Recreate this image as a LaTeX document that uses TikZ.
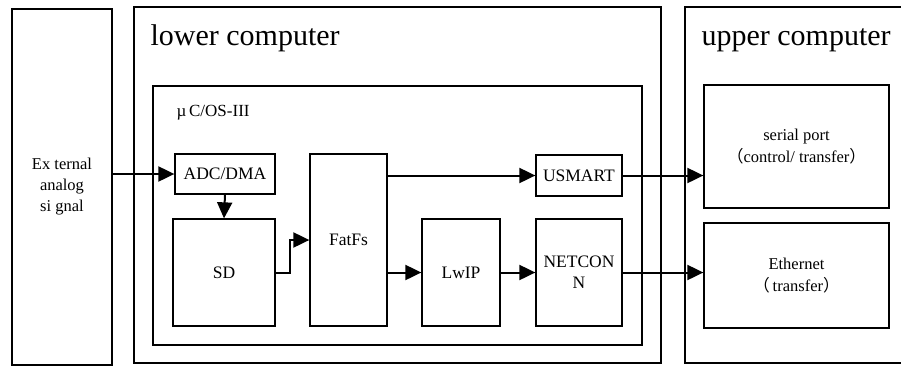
\documentclass[tikz,border=0pt]{standalone}
\usepackage{fontspec}
\setmainfont{Liberation Serif}
\newfontfamily\cjk{Noto Sans CJK SC}
\usetikzlibrary{arrows.meta}
\newcommand{\fs}[2]{\fontsize{#1}{#2}\selectfont}
\begin{document}
\begin{tikzpicture}[x=1pt,y=-1pt,
  frame/.style={draw,line width=2.2pt,inner sep=0pt},
  block/.style={draw,line width=1.3pt,inner sep=0pt,align=center,font=\fs{17.5}{21}},
  port/.style={block,font=\fs{16.5}{22}},
  link/.style={line width=2pt,-{Triangle[length=16pt,width=15pt]}}]
  \clip (0,0) rectangle (901,367);
  \useasboundingbox (0,0) rectangle (901,367);
  % Signal source
  \node[frame,minimum width=100pt,minimum height=356pt,align=center,font=\fs{16.5}{21}]
    (ext) at (62,187) {Ex ternal\\analog\\si gnal};
  % Lower computer and RTOS frame
  \node[frame,minimum width=527pt,minimum height=356pt] (lower) at (397.5,185) {};
  \node[anchor=base west,font=\fs{30}{32}] (lowtitle) at (147,45) {lower computer};
  \node[frame,minimum width=489pt,minimum height=259pt] (os) at (397.5,215.5) {};
  \node[anchor=base west,font=\fs{17}{20}] (ostitle) at (173,116) {µ\,C/OS-III};
  % Upper computer (runs off the right edge)
  \node[frame,minimum width=275pt,minimum height=356pt] (upper) at (822.5,185) {};
  \node[anchor=base west,font=\fs{30}{32}] (uptitle) at (698,45) {upper computer};
  % Blocks inside the RTOS
  \node[block,minimum width=100pt,minimum height=40pt] (adc) at (225,174) {ADC/DMA};
  \node[block,minimum width=102pt,minimum height=107pt] (sd) at (224,272.5) {SD};
  \node[block,minimum width=77pt,minimum height=172pt] (fatfs) at (348.5,240) {FatFs};
  \node[block,minimum width=78pt,minimum height=107pt] (lwip) at (461,272.5) {LwIP};
  \node[block,minimum width=86pt,minimum height=107pt] (netconn) at (579,272.5) {NETCON\\N};
  \node[block,minimum width=86pt,minimum height=41pt] (usmart) at (579,175.5) {USMART};
  % Upper computer ports
  \node[port,minimum width=185pt,minimum height=123pt] (serial) at (796.5,146.5)
    {serial port\\{\cjk （}control/ transfer{\cjk ）}};
  \node[port,minimum width=185pt,minimum height=105pt] (ether) at (796.5,275.5)
    {Ethernet\\{\cjk （}\,transfer{\cjk ）}};
  % Data flow
  \draw[link] (ext.east |- adc.west) -- (adc.west);
  \draw[link] (adc.south) -- (sd.north);
  \draw[link] (sd.east) -- ++(14,0) |- (fatfs.west);
  \draw[link] (fatfs.east |- usmart.west) -- (usmart.west);
  \draw[link] (fatfs.east |- lwip.west) -- (lwip.west);
  \draw[link] (lwip) -- (netconn);
  \draw[link] (usmart.east) -- (usmart.east -| serial.west);
  \draw[link] (netconn.east) -- (netconn.east -| ether.west);
\end{tikzpicture}
\end{document}
